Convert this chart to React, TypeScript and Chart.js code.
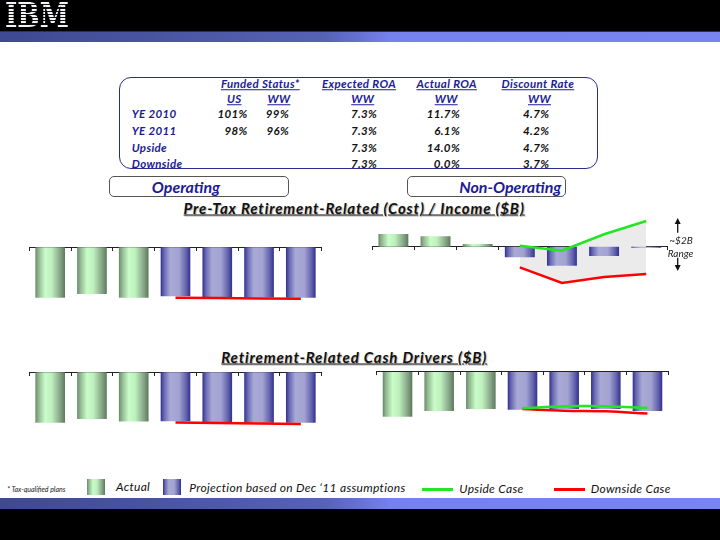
import React, { useEffect, useRef } from "react";
import { Chart, registerables } from "chart.js";

Chart.register(...registerables);

// ---------- data ----------
const years = ["2009", "2010", "2011", "2012", "2013", "2014", "2015"];
const actualCount = 3;

// Pre-tax retirement-related (cost)/income, $B
const opCost = [-1.9, -1.76, -1.9, -1.85, -1.89, -1.89, -1.9];
const opCostDown = [null, null, null, -1.9, -1.91, -1.93, -1.94];
const nonOpIncome = [0.48, 0.39, 0.1, -0.4, -0.72, -0.35, -0.04];
const nonOpUp = [null, null, null, 0.04, -0.15, 0.47, 0.97];
const nonOpDown = [null, null, null, -0.78, -1.37, -1.14, -1.03];

// Retirement-related cash drivers, $B
const opCash = [-1.9, -1.76, -1.86, -1.85, -1.89, -1.9, -1.9];
const opCashDown = [null, null, null, -1.89, -1.91, -1.93, -1.95];
const nonOpCash = [-1.69, -1.47, -1.4, -1.42, -1.4, -1.4, -1.47];
const nonOpCashUp = [null, null, null, -1.37, -1.29, -1.29, -1.36];
const nonOpCashDown = [null, null, null, -1.4, -1.46, -1.48, -1.57];

// assumptions table
const tableRows = ["YE 2010", "YE 2011", "Upside", "Downside"];
const fundedUS = ["101%", "98%", "", ""];
const fundedWW = ["99%", "96%", "", ""];
const expectedROA = ["7.3%", "7.3%", "7.3%", "7.3%"];
const actualROA = ["11.7%", "6.1%", "14.0%", "0.0%"];
const discountRate = ["4.7%", "4.2%", "4.7%", "3.7%"];

// ---------- styling ----------
const PX_PER_B = 26.5;
const BAR_PCT = 0.71;
const NAVY = "#1c1c96";
const UP_COLOR = "#22e622";
const DOWN_COLOR = "#ff0000";
const FONT = "Lato, 'Open Sans', sans-serif";

const greenStops: [number, string][] = [
  [0, "#6a886a"], [0.1, "#8fb48f"], [0.33, "#c8fcc8"], [0.55, "#bdf0bd"], [0.82, "#8aa98a"], [1, "#5d795d"],
];
const blueStops: [number, string][] = [
  [0, "#313190"], [0.12, "#6a6ab4"], [0.32, "#a9a9d6"], [0.62, "#a3a3d2"], [0.86, "#6262ad"], [1, "#30308f"],
];
const cssGrad = (stops: [number, string][]) =>
  `linear-gradient(90deg, ${stops.map(([p, c]) => `${c} ${p * 100}%`).join(", ")})`;

function barFill(c: any) {
  const chart = c.chart;
  const green = c.dataIndex < actualCount;
  const xs = chart.scales && chart.scales.x;
  if (!xs || !chart.chartArea) return green ? "#bdf0bd" : "#a3a3d2";
  const cx = xs.getPixelForValue(c.dataIndex);
  const w = (xs.width / years.length) * BAR_PCT;
  const g = chart.ctx.createLinearGradient(cx - w / 2, 0, cx + w / 2, 0);
  (green ? greenStops : blueStops).forEach(([p, col]) => g.addColorStop(p, col));
  return g;
}

type PanelProps = {
  left: number; top: number; width: number; height: number; zero: number;
  padL: number; padR: number;
  bars: number[]; up?: (number | null)[]; down?: (number | null)[];
  shade?: boolean; tension?: number;
};

function Panel(p: PanelProps) {
  const ref = useRef<HTMLCanvasElement | null>(null);
  useEffect(() => {
    if (!ref.current) return;
    const datasets: any[] = [
      {
        type: "bar", data: p.bars, backgroundColor: barFill, borderWidth: 0,
        barPercentage: BAR_PCT, categoryPercentage: 1, order: 2,
      },
    ];
    if (p.up) {
      datasets.push({
        type: "line", data: p.up, borderColor: UP_COLOR, borderWidth: 2.5, pointRadius: 0,
        tension: p.tension || 0, order: 1,
        fill: p.shade ? "+1" : false, backgroundColor: "#ebebeb",
      });
    }
    if (p.down) {
      datasets.push({
        type: "line", data: p.down, borderColor: DOWN_COLOR, borderWidth: 2.5, pointRadius: 0,
        tension: p.tension || 0, order: 1, fill: false,
      });
    }
    const chart = new Chart(ref.current, {
      type: "bar",
      data: { labels: years, datasets },
      options: {
        animation: false, responsive: false, maintainAspectRatio: false, events: [],
        layout: { padding: { left: p.padL, right: p.padR, top: 0, bottom: 0 } },
        plugins: {
          legend: { display: false }, tooltip: { enabled: false },
          filler: { drawTime: "beforeDatasetsDraw" } as any,
        },
        scales: {
          x: {
            position: { y: 0 } as any, offset: true, z: 1,
            grid: { offset: true, drawOnChartArea: false, drawTicks: true, tickLength: 3, color: "#222", lineWidth: 1 },
            border: { display: true, color: "#222", width: 1 },
            ticks: { display: false },
          },
          y: {
            display: false,
            min: -(p.height - p.zero) / PX_PER_B,
            max: p.zero / PX_PER_B,
          },
        },
      } as any,
    });
    return () => chart.destroy();
  }, []);
  return (
    <canvas
      ref={ref}
      width={p.width}
      height={p.height}
      style={{ position: "absolute", left: p.left, top: p.top, width: p.width, height: p.height }}
    />
  );
}

function Txt(props: { x: number; y: number; a?: "l" | "c" | "r"; s?: React.CSSProperties; children: React.ReactNode }) {
  const { x, y, a = "l", s, children } = props;
  const tx = a === "c" ? "-50%" : a === "r" ? "-100%" : "0";
  return (
    <div
      style={{
        position: "absolute", left: x, top: y, transform: `translate(${tx}, -50%)`,
        whiteSpace: "nowrap", lineHeight: 1, fontFamily: FONT, ...s,
      }}
    >
      {children}
    </div>
  );
}

const bandBg =
  "linear-gradient(90deg, #3f4992 0%, #4b56a4 25%, #5662b4 45%, #6672d2 50%, #7581ec 54%, #7884f0 100%)";

export default function App() {
  const base: React.CSSProperties = { fontWeight: 700, fontStyle: "italic", fontSize: 11.5, letterSpacing: 0.35 };
  const hdr: React.CSSProperties = { ...base, color: NAVY, textDecoration: "underline" };
  const lbl: React.CSSProperties = { ...base, color: NAVY };
  const val: React.CSSProperties = { ...base, color: "#111" };
  const title: React.CSSProperties = {
    fontWeight: 700, fontStyle: "italic", fontSize: 15, letterSpacing: 0.85, color: "#111", textDecoration: "underline",
    textShadow: "1px 1px 1px rgba(0,0,0,0.3)",
  };
  const leg: React.CSSProperties = { fontStyle: "italic", fontSize: 12, letterSpacing: 0.3, color: "#111" };
  const rowY = [114.3, 131, 147.7, 163.7];

  return (
    <div style={{ position: "fixed", left: 0, top: 0, width: 720, height: 540, background: "#fff", overflow: "hidden" }}>
      {/* header */}
      <div style={{ position: "absolute", left: 0, top: 0, width: 720, height: 31, background: "#000" }} />
      <div style={{ position: "absolute", left: 0, top: 30.7, width: 720, height: 11.3, background: bandBg, borderTop: "1px solid #2a2f6a", boxSizing: "border-box" }} />
      <div
        style={{
          position: "absolute", left: 5, top: -1, height: 34, fontFamily: "'DejaVu Serif', serif", fontWeight: 700, fontSize: 33,
          lineHeight: "34px", transform: "scaleX(0.8)", transformOrigin: "left top", letterSpacing: 0,
          backgroundImage: "repeating-linear-gradient(180deg, #f4f4f8 0px, #f4f4f8 2px, #111 2px, #111 3.2px)",
          WebkitBackgroundClip: "text", backgroundClip: "text", color: "transparent",
        }}
      >
        IBM
      </div>

      {/* assumptions table */}
      <div style={{ position: "absolute", left: 119, top: 76.7, width: 479, height: 92.6, border: "1.5px solid #2b2b8c", borderRadius: 12, boxSizing: "border-box" }} />
      <Txt x={260.3} y={84} a="c" s={hdr}>Funded Status*</Txt>
      <Txt x={359} y={84} a="c" s={hdr}>Expected ROA</Txt>
      <Txt x={446.7} y={84} a="c" s={hdr}>Actual ROA</Txt>
      <Txt x={537.9} y={84} a="c" s={hdr}>Discount Rate</Txt>
      <Txt x={234.2} y={98.7} a="c" s={hdr}>US</Txt>
      <Txt x={278.9} y={98.7} a="c" s={hdr}>WW</Txt>
      <Txt x={362.7} y={98.7} a="c" s={hdr}>WW</Txt>
      <Txt x={446.2} y={98.7} a="c" s={hdr}>WW</Txt>
      <Txt x={539.5} y={98.7} a="c" s={hdr}>WW</Txt>
      {tableRows.map((r, i) => (
        <React.Fragment key={r}>
          <Txt x={131.7} y={rowY[i]} s={lbl}>{r}</Txt>
          <Txt x={247.7} y={rowY[i]} a="r" s={val}>{fundedUS[i]}</Txt>
          <Txt x={289} y={rowY[i]} a="r" s={val}>{fundedWW[i]}</Txt>
          <Txt x={377.2} y={rowY[i]} a="r" s={val}>{expectedROA[i]}</Txt>
          <Txt x={460} y={rowY[i]} a="r" s={val}>{actualROA[i]}</Txt>
          <Txt x={549.3} y={rowY[i]} a="r" s={val}>{discountRate[i]}</Txt>
        </React.Fragment>
      ))}

      {/* section boxes */}
      <div style={{ position: "absolute", left: 109, top: 176, width: 180, height: 21, border: "1px solid #555", borderRadius: 5, boxSizing: "border-box" }} />
      <Txt x={186} y={187.3} a="c" s={{ fontWeight: 700, fontStyle: "italic", fontSize: 16, color: NAVY }}>Operating</Txt>
      <div style={{ position: "absolute", left: 407, top: 176, width: 159, height: 21, border: "1px solid #555", borderRadius: 5, boxSizing: "border-box" }} />
      <Txt x={510.3} y={187.3} a="c" s={{ fontWeight: 700, fontStyle: "italic", fontSize: 16, color: NAVY }}>Non-Operating</Txt>

      {/* titles */}
      <Txt x={354.2} y={208.3} a="c" s={title}>Pre-Tax Retirement-Related (Cost) / Income ($B)</Txt>
      <Txt x={354.2} y={356.7} a="c" s={title}>Retirement-Related Cash Drivers ($B)</Txt>

      {/* charts */}
      <Panel left={27} top={237} width={297} height={80} zero={10.3} padL={2.3} padR={2.3} bars={opCost} down={opCostDown} />
      <Panel left={370} top={212} width={300} height={80} zero={34.7} padL={2.3} padR={2.7} bars={nonOpIncome} up={nonOpUp} down={nonOpDown} shade />
      <Panel left={27} top={362} width={297} height={80} zero={10.3} padL={2.3} padR={2.3} bars={opCash} down={opCashDown} />
      <Panel left={374} top={362} width={297} height={70} zero={10} padL={2.7} padR={2.7} bars={nonOpCash} up={nonOpCashUp} down={nonOpCashDown} tension={0.4} />

      {/* ~$2B range annotation */}
      <svg style={{ position: "absolute", left: 670, top: 216, overflow: "visible" }} width={16} height={58}>
        <line x1={7.7} y1={4} x2={7.7} y2={16.7} stroke="#111" strokeWidth={1.3} />
        <polygon points="7.7,2 4.7,8 10.7,8" fill="#111" />
        <line x1={7.7} y1={41.7} x2={7.7} y2={53} stroke="#111" strokeWidth={1.3} />
        <polygon points="7.7,55 4.7,49 10.7,49" fill="#111" />
      </svg>
      <Txt x={681} y={240} a="c" s={{ fontStyle: "italic", fontSize: 10, color: "#222" }}>~$2B</Txt>
      <Txt x={680.5} y={253.3} a="c" s={{ fontStyle: "italic", fontSize: 10, color: "#222" }}>Range</Txt>

      {/* legend */}
      <Txt x={7.3} y={489} s={{ fontStyle: "italic", fontSize: 7, color: "#222" }}>* Tax-qualified plans</Txt>
      <div style={{ position: "absolute", left: 87.3, top: 479.3, width: 17.7, height: 15.7, background: cssGrad(greenStops) }} />
      <Txt x={116} y={487} s={leg}>Actual</Txt>
      <div style={{ position: "absolute", left: 163.3, top: 479.3, width: 17.4, height: 15.7, background: cssGrad(blueStops) }} />
      <Txt x={189.3} y={487.5} s={leg}>Projection based on Dec ‘11 assumptions</Txt>
      <div style={{ position: "absolute", left: 422.3, top: 488, width: 31, height: 2.5, background: UP_COLOR }} />
      <Txt x={459.3} y={489.3} s={leg}>Upside Case</Txt>
      <div style={{ position: "absolute", left: 554.3, top: 488, width: 31, height: 2.5, background: DOWN_COLOR }} />
      <Txt x={590.7} y={489.3} s={leg}>Downside Case</Txt>

      {/* footer */}
      <div style={{ position: "absolute", left: 0, top: 498.3, width: 720, height: 11, background: bandBg }} />
      <div style={{ position: "absolute", left: 0, top: 509.3, width: 720, height: 31, background: "#000" }} />
    </div>
  );
}
